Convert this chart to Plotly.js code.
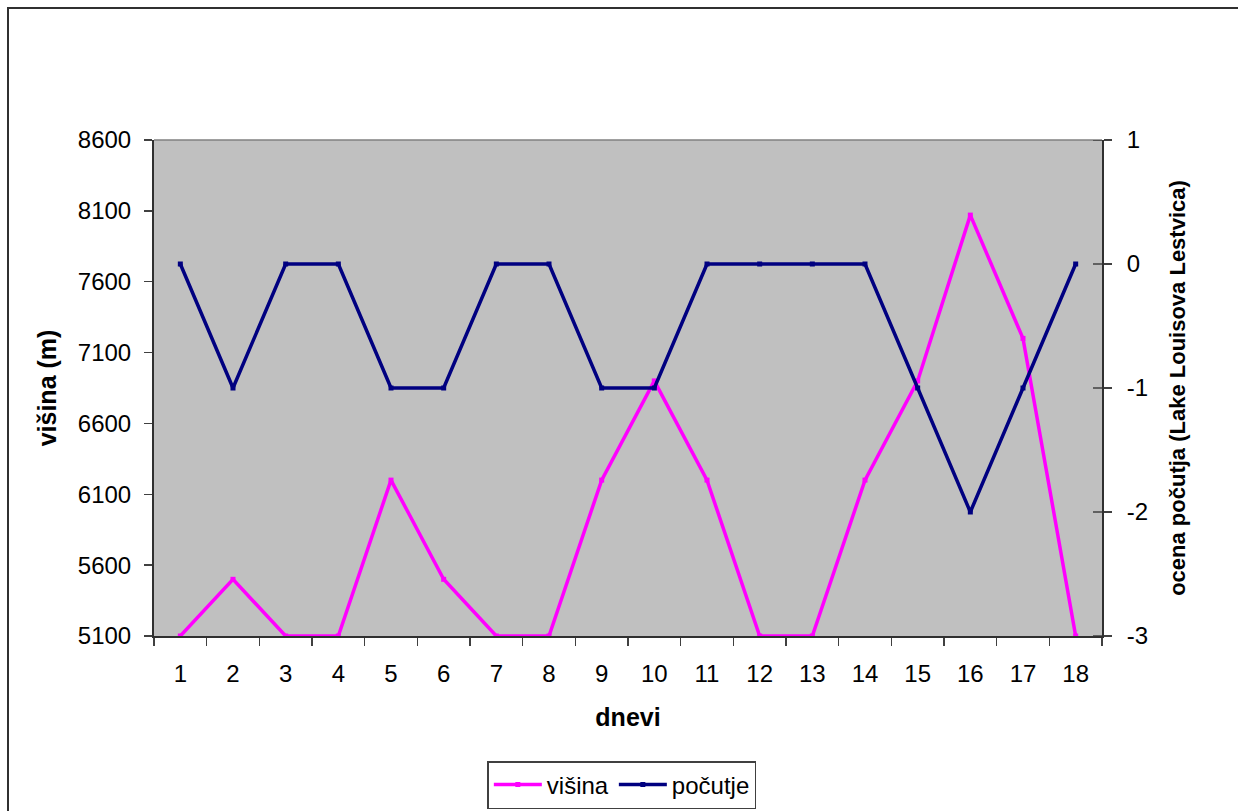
<!DOCTYPE html>
<html>
<head>
<meta charset="utf-8">
<script src="https://cdn.plot.ly/plotly-3.0.1.min.js"></script>
<style>
  html, body { margin: 0; padding: 0; background: #ffffff; }
  #chart { width: 1238px; height: 811px; }
</style>
</head>
<body>
<div id="chart"></div>
<script>
// Days of the trek
const dnevi = ["1","2","3","4","5","6","7","8","9","10","11","12","13","14","15","16","17","18"];
// Altitude (m) per day
const visina = [5100, 5500, 5100, 5100, 6200, 5500, 5100, 5100, 6200, 6900, 6200, 5100, 5100, 6200, 6900, 8070, 7200, 5100];
// Wellbeing score (Lake Louise scale)
const pocutje = [0, -1, 0, 0, -1, -1, 0, 0, -1, -1, 0, 0, 0, 0, -1, -2, -1, 0];

const leftTicks = [5100, 5600, 6100, 6600, 7100, 7600, 8100, 8600];
const rightTicks = [-3, -2, -1, 0, 1];
const rightTickText = ["-3", "-2", "-1", "0", "1"];

const FONT = "Liberation Sans, Arial, sans-serif";

// plot area in pixels: x 154..1102, y 140..636
const L = 154, R = 1102, T = 140, B = 636;
const W = R - L, H = B - T;
const px = x => (x - L) / W;
const py = y => (B - y) / H;

const traces = [
  {
    x: dnevi, y: visina, name: "višina", type: "scatter", mode: "lines+markers",
    line: { color: "#FF00FF", width: 3.5 },
    marker: { color: "#FF00FF", size: 5, symbol: "square" },
    yaxis: "y"
  },
  {
    x: dnevi, y: pocutje, name: "počutje", type: "scatter", mode: "lines+markers",
    line: { color: "#000080", width: 3.5 },
    marker: { color: "#000080", size: 5, symbol: "square" },
    yaxis: "y2"
  }
];

const layout = {
  width: 1238, height: 811,
  margin: { l: L, r: 1238 - R, t: T, b: 811 - B, pad: 0, autoexpand: false },
  paper_bgcolor: "#ffffff",
  plot_bgcolor: "#C0C0C0",
  font: { family: FONT, color: "#000000", size: 24 },
  showlegend: true,
  legend: {
    orientation: "h",
    x: 0.4935, xanchor: "center",
    y: py(761), yanchor: "top",
    bgcolor: "#ffffff",
    bordercolor: "#404040", borderwidth: 1.5,
    font: { family: FONT, size: 24, color: "#000000" },
    itemwidth: 48,
    tracegroupgap: 0
  },
  xaxis: {
    type: "category",
    range: [-0.5, 17.5],
    tickson: "boundaries",
    ticks: "outside", ticklen: 8, tickwidth: 1.5, tickcolor: "#404040",
    showline: true, linecolor: "#303030", linewidth: 2,
    showgrid: false, zeroline: false,
    tickfont: { family: FONT, size: 24 },
    ticklabelstandoff: 15,
    title: { text: "<b>dnevi</b>", font: { family: FONT, size: 25 }, standoff: 23 },
    fixedrange: true
  },
  yaxis: {
    range: [5100, 8600],
    tickvals: leftTicks,
    ticks: "outside", ticklen: 8, tickwidth: 1.5, tickcolor: "#404040",
    showline: true, linecolor: "#303030", linewidth: 2,
    showgrid: false, zeroline: false,
    tickfont: { family: FONT, size: 24 },
    ticklabelstandoff: 8,
    title: { text: "<b>višina (m)</b>", font: { family: FONT, size: 25 }, standoff: 14 },
    fixedrange: true
  },
  yaxis2: {
    overlaying: "y", side: "right",
    range: [-3, 1],
    tickvals: rightTicks,
    ticktext: rightTickText,
    ticks: "outside", ticklen: 8, tickwidth: 1.5, tickcolor: "#404040",
    showline: true, linecolor: "#303030", linewidth: 2,
    showgrid: false, zeroline: false,
    tickfont: { family: FONT, size: 24 },
    ticklabelstandoff: 10,
    title: { text: "<b>ocena počutja (Lake Louisova Lestvica)</b>", font: { family: FONT, size: 22 }, standoff: 22 },
    fixedrange: true
  },
  shapes: [
    // outer chart frame
    { type: "rect", xref: "paper", yref: "paper",
      x0: px(8), x1: px(1260), y0: py(8), y1: py(840),
      line: { color: "#303030", width: 2 }, fillcolor: "rgba(0,0,0,0)", layer: "below" },
    // top edge of plot area
    { type: "line", xref: "paper", yref: "paper",
      x0: 0, x1: 1, y0: 1, y1: 1,
      line: { color: "#808080", width: 1.5 } }
  ]
};

// inner halves of the right-axis cross ticks
rightTicks.forEach(v => {
  layout.shapes.push({
    type: "line", xref: "paper", yref: "y2",
    x0: px(R - 9), x1: 1, y0: v, y1: v,
    line: { color: "#404040", width: 1.5 }
  });
});

Plotly.newPlot("chart", traces, layout, { displayModeBar: false, staticPlot: true });
</script>
</body>
</html>
